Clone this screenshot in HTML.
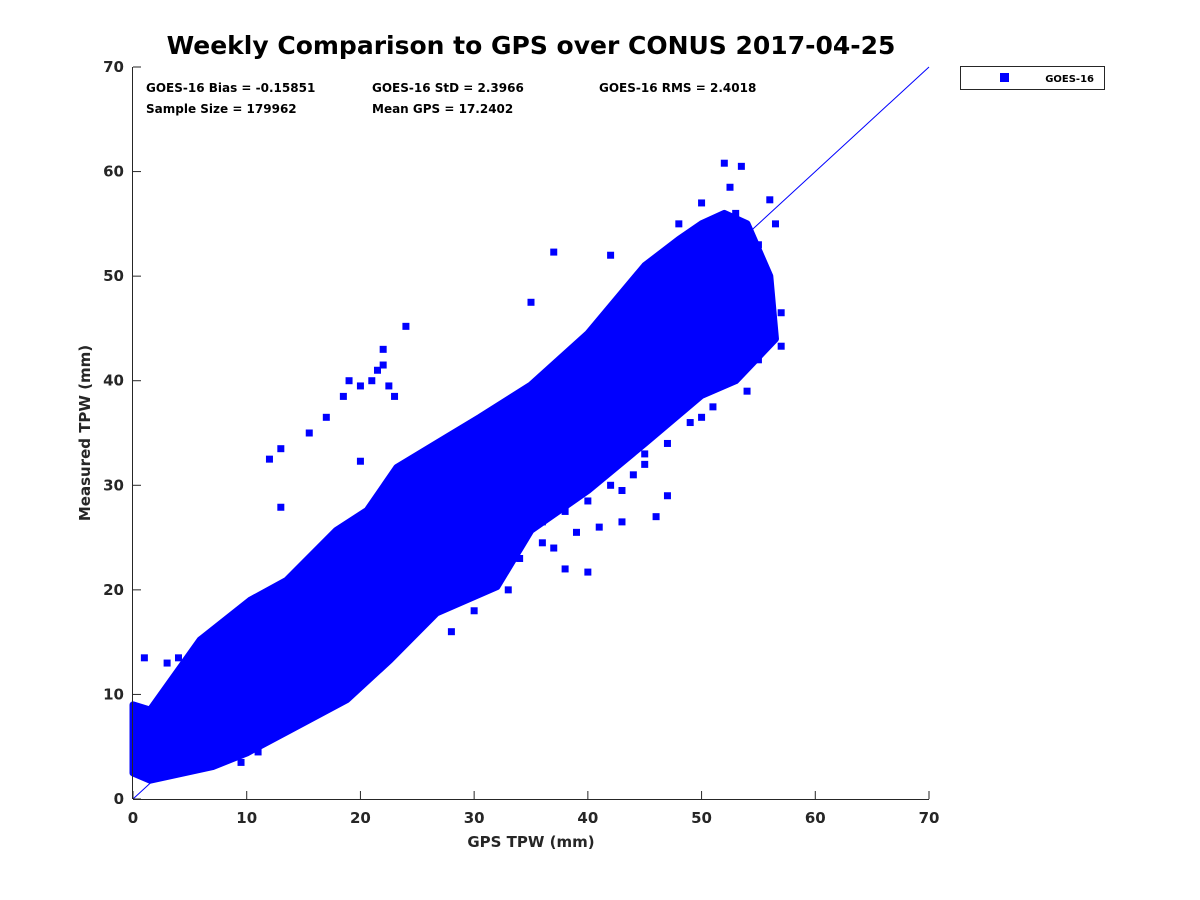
<!DOCTYPE html>
<html><head><meta charset="utf-8"><style>
html,body{margin:0;padding:0;background:#fff;}
svg{display:block;font-family:"DejaVu Sans","Liberation Sans",sans-serif;}
</style></head><body>
<svg id="chart" width="1200" height="900" viewBox="0 0 1200 900">
<text x="531" y="54" text-anchor="middle" font-size="25" font-weight="bold">Weekly Comparison to GPS over CONUS 2017-04-25</text>
<g font-size="12" font-weight="bold">
<text x="146" y="92">GOES-16 Bias = -0.15851</text>
<text x="372" y="92">GOES-16 StD = 2.3966</text>
<text x="599" y="92">GOES-16 RMS = 2.4018</text>
<text x="146" y="113">Sample Size = 179962</text>
<text x="372" y="113">Mean GPS = 17.2402</text>
</g>
<g id="plot"></g>
<g id="axes"></g>
<text x="531" y="847" text-anchor="middle" font-size="15" font-weight="bold" fill="#262626">GPS TPW (mm)</text>
<text transform="translate(90,433) rotate(-90)" text-anchor="middle" font-size="15" font-weight="bold" fill="#262626">Measured TPW (mm)</text>
<g>
<rect x="960.5" y="66.5" width="144" height="23" fill="#fff" stroke="#262626"/>
<rect x="1000" y="73" width="9" height="9" fill="#0000ff"/>
<text x="1094" y="82" text-anchor="end" font-size="10" font-weight="bold">GOES-16</text>
</g>
</svg>
<script>
const upperX=[0,1.5,5.9,10.3,13.5,17.9,20.6,23.2,27.6,30.5,35,40,45,48,50,52,54,56,56.5];
const upperY=[9,8.5,15.2,19,20.9,25.7,27.6,31.7,34.6,36.5,39.6,44.5,51,53.5,55,56,55,50,44];
const lowerX=[0,1.5,7,10,13.8,18.8,22.6,26.7,32,35,40,45,50,53,56.5];
const lowerY=[2.5,1.8,3.1,4.4,6.6,9.5,13.3,17.8,20.3,25.7,29.5,34,38.6,40,44];
const outX=[13,12,13,15.5,17,20,21,22,22,24,23,20,35,37,42,48,52,53.5,56,56.5,57,57,55,50,45,43,40,38,33,30,28,25,12,10,11,14,9.5,3,4,1,21.5,22.5,19,18.5,46,47,52.5,55,36,31,29,27,38,40,42,44,41,43,39,37,36,34,45,47,49,51,54,55,53,50];
const outY=[27.9,32.5,33.5,35,36.5,39.5,40,43,41.5,45.2,38.5,32.3,47.5,52.3,52,55,60.8,60.5,57.3,55,46.5,43.3,42,36.5,33,26.5,21.7,22,20,18,16,18,10.8,6,4.5,8,3.5,13,13.5,13.5,41,39.5,40,38.5,27,29,58.5,53,24.5,22.5,21.5,19.5,27.5,28.5,30,31,26,29.5,25.5,24,26.5,23,32,34,36,37.5,39,47,56,57];
const xTicks=[0,10,20,30,40,50,60,70];
const yTicks=[0,10,20,30,40,50,60,70];
const X0=133,X1=929,Y0=799,Y1=67,MAXV=70;
const sx=v=>X0+v*(X1-X0)/MAXV;
const sy=v=>Y0-v*(Y0-Y1)/MAXV;
const NS="http://www.w3.org/2000/svg";
const plot=document.getElementById('plot'),axes=document.getElementById('axes');
function mk(tag,attrs,parent){const e=document.createElementNS(NS,tag);for(const k in attrs)e.setAttribute(k,attrs[k]);parent.appendChild(e);return e;}
let pts=[];
for(let i=0;i<upperX.length;i++)pts.push(sx(upperX[i])+','+sy(upperY[i]));
for(let i=lowerX.length-1;i>=0;i--)pts.push(sx(lowerX[i])+','+sy(lowerY[i]));
const band=mk('polygon',{points:pts.join(' '),fill:'#0000ff',stroke:'#0000ff','stroke-width':7,'stroke-linejoin':'round'},plot);


for(let i=0;i<outX.length;i++){
 const r=mk('rect',{x:sx(outX[i])-3.5,y:sy(outY[i])-3.5,width:7,height:7,fill:'#0000ff'},plot);
 
 
}
const one=mk('line',{x1:sx(0),y1:sy(0),x2:sx(70),y2:sy(70),stroke:'#0000ff','stroke-width':1},plot);


const xa=mk('line',{x1:X0,y1:Y0+0.5,x2:X1,y2:Y0+0.5,stroke:'#262626'},axes);


const ya=mk('line',{x1:X0-0.5,y1:Y0,x2:X0-0.5,y2:Y1,stroke:'#262626'},axes);


xTicks.forEach(t=>{
 const l=mk('line',{x1:sx(t),y1:Y0,x2:sx(t),y2:Y0-8,stroke:'#262626'},axes);
 
 
 const tx=mk('text',{x:sx(t),y:Y0+24,'text-anchor':'middle','font-size':15,'font-weight':'bold',fill:'#262626'},axes);
 tx.textContent=t;
 
 
});
yTicks.forEach(t=>{
 const l=mk('line',{x1:X0,y1:sy(t),x2:X0+8,y2:sy(t),stroke:'#262626'},axes);
 
 
 const tx=mk('text',{x:X0-9,y:sy(t)+5,'text-anchor':'end','font-size':15,'font-weight':'bold',fill:'#262626'},axes);
 tx.textContent=t;
 
 
});
</script>
</body></html>
